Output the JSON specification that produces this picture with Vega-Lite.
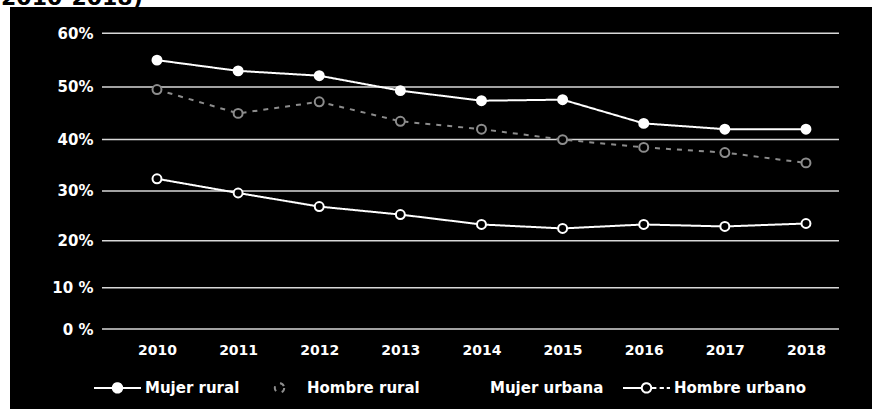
{
  "$schema": "https://vega.github.io/schema/vega-lite/v6.json",
  "width": 862,
  "height": 402,
  "autosize": {"type": "none"},
  "padding": {"left": 10, "top": 7, "right": 0, "bottom": 0},
  "background": "white",
  "title": {
    "text": "(2010-2018)",
    "anchor": "start",
    "dx": -19,
    "dy": 20,
    "fontSize": 22,
    "font": "DejaVu Sans",
    "fontWeight": "bold",
    "color": "black",
    "baseline": "alphabetic",
    "offset": 0
  },
  "config": {
    "view": {"fill": "black", "stroke": null},
    "axis": {"grid": false, "domain": false, "ticks": false, "title": null, "labelColor": "white", "labelFont": "DejaVu Sans", "labelFontWeight": "bold"}
  },
  "datasets": {
    "grid": [{"v": 0}, {"v": 10}, {"v": 20}, {"v": 30}, {"v": 40}, {"v": 50}, {"v": 60}],
    "series": [
      {"series": "Mujer rural", "year": 2010, "value": 55.0},
      {"series": "Mujer rural", "year": 2011, "value": 53.0},
      {"series": "Mujer rural", "year": 2012, "value": 52.1},
      {"series": "Mujer rural", "year": 2013, "value": 49.3},
      {"series": "Mujer rural", "year": 2014, "value": 47.4},
      {"series": "Mujer rural", "year": 2015, "value": 47.6},
      {"series": "Mujer rural", "year": 2016, "value": 43.1},
      {"series": "Mujer rural", "year": 2017, "value": 42.0},
      {"series": "Mujer rural", "year": 2018, "value": 42.0},
      {"series": "Hombre rural", "year": 2010, "value": 49.5},
      {"series": "Hombre rural", "year": 2011, "value": 45.0},
      {"series": "Hombre rural", "year": 2012, "value": 47.2},
      {"series": "Hombre rural", "year": 2013, "value": 43.5},
      {"series": "Hombre rural", "year": 2014, "value": 42.0},
      {"series": "Hombre rural", "year": 2015, "value": 40.0},
      {"series": "Hombre rural", "year": 2016, "value": 38.5},
      {"series": "Hombre rural", "year": 2017, "value": 37.5},
      {"series": "Hombre rural", "year": 2018, "value": 35.5},
      {"series": "Hombre urbano", "year": 2010, "value": 32.4},
      {"series": "Hombre urbano", "year": 2011, "value": 29.6},
      {"series": "Hombre urbano", "year": 2012, "value": 26.9},
      {"series": "Hombre urbano", "year": 2013, "value": 25.3},
      {"series": "Hombre urbano", "year": 2014, "value": 23.3},
      {"series": "Hombre urbano", "year": 2015, "value": 22.5},
      {"series": "Hombre urbano", "year": 2016, "value": 23.3},
      {"series": "Hombre urbano", "year": 2017, "value": 22.9},
      {"series": "Hombre urbano", "year": 2018, "value": 23.5}
    ]
  },
  "layer": [
    {
      "data": {"name": "grid"},
      "mark": {"type": "rule", "color": "#d9d9d9", "strokeWidth": 1.5},
      "encoding": {
        "y": {
          "field": "v",
          "type": "quantitative",
          "scale": {"type": "pow", "exponent": 1.1, "domain": [-18.27, 64.8], "nice": false, "zero": false},
          "axis": {"values": [0, 10, 20, 30, 40, 50, 60], "orient": "left", "offset": -87, "labelPadding": 4, "labelFontSize": 15, "labelExpr": "datum.value >= 20 ? datum.value + '%' : datum.value + ' %'"}
        },
        "x": {
          "datum": 2009.322,
          "type": "quantitative",
          "scale": {"domain": [2008.188, 2018.814], "nice": false, "zero": false},
          "axis": {"values": [2010, 2011, 2012, 2013, 2014, 2015, 2016, 2017, 2018], "format": "d", "orient": "bottom", "offset": -66, "labelPadding": 0, "labelBaseline": "top", "labelFontSize": 14, "labelFlush": false}
        },
        "x2": {"datum": 2018.407}
      }
    },
    {
      "data": {"name": "series"},
      "mark": {"type": "line", "strokeWidth": 2},
      "encoding": {
        "x": {"field": "year", "type": "quantitative"},
        "y": {"field": "value", "type": "quantitative"},
        "stroke": {
          "field": "series",
          "type": "nominal",
          "scale": {"domain": ["Mujer rural", "Hombre rural", "Mujer urbana", "Hombre urbano"], "range": ["white", "#8c8c8c", "transparent", "white"]},
          "legend": {
            "title": null,
            "orient": "none",
            "direction": "horizontal",
            "legendX": 83,
            "legendY": 356,
            "symbolSize": 2209,
            "symbolStrokeWidth": 2,
            "symbolType": "M-1,0H-0.22M0.22,0H1M0.2,0A0.2,0.2,0,1,1,-0.2,0A0.2,0.2,0,1,1,0.2,0",
            "labelColor": "white",
            "labelFont": "DejaVu Sans",
            "labelFontWeight": "bold",
            "labelFontSize": 15,
            "labelOffset": 3,
            "columnPadding": 15,
            "encode": {
              "symbols": {
                "update": {
                  "fill": {"signal": "datum.value === 'Mujer rural' ? 'white' : 'black'"},
                  "shape": {"signal": "datum.value === 'Hombre urbano' ? 'M-1,0H-0.22M0.22,0H0.42M0.56,0H0.74M0.86,0H1M0.2,0A0.2,0.2,0,1,1,-0.2,0A0.2,0.2,0,1,1,0.2,0' : datum.value === 'Hombre rural' ? 'M0.2,0A0.2,0.2,0,1,1,-0.2,0A0.2,0.2,0,1,1,0.2,0' : 'M-1,0H-0.22M0.22,0H1M0.2,0A0.2,0.2,0,1,1,-0.2,0A0.2,0.2,0,1,1,0.2,0'"}
                }
              }
            }
          }
        },
        "strokeDash": {
          "field": "series",
          "type": "nominal",
          "scale": {"domain": ["Mujer rural", "Hombre rural", "Mujer urbana", "Hombre urbano"], "range": [[1, 0], [5, 6], [1, 0], [1, 0]]},
          "legend": null
        }
      }
    },
    {
      "data": {"name": "series"},
      "mark": {"type": "point", "filled": true, "size": 80, "strokeWidth": 2, "opacity": 1},
      "encoding": {
        "x": {"field": "year", "type": "quantitative"},
        "y": {"field": "value", "type": "quantitative"},
        "stroke": {"field": "series", "type": "nominal", "legend": null},
        "fill": {
          "field": "series",
          "type": "nominal",
          "scale": {"domain": ["Mujer rural", "Hombre rural", "Mujer urbana", "Hombre urbano"], "range": ["white", "black", "transparent", "black"]},
          "legend": null
        }
      }
    }
  ]
}
